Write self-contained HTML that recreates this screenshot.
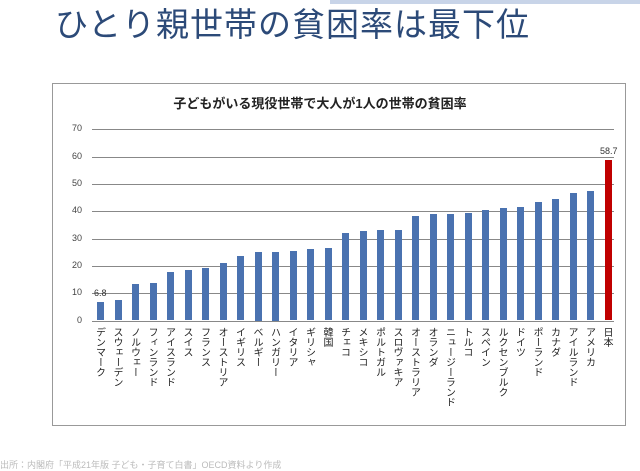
<!DOCTYPE html>
<html><head><meta charset="utf-8"><style>
body{margin:0;width:640px;height:468px;background:#fff;overflow:hidden;font-family:"Liberation Sans","Noto Sans CJK JP",sans-serif;position:relative}
.t{position:absolute;left:55px;top:-2px;font-size:33px;color:#2c4a78;letter-spacing:1px;white-space:nowrap}
.box{position:absolute;left:52px;top:83px;width:572px;height:341px;border:1px solid #999}
.ct{position:absolute;left:0;width:640px;top:93px;text-align:center;font-size:13px;font-weight:bold;color:#222}
.yl{position:absolute;left:60px;width:22px;text-align:right;font-size:9px;color:#444}
.g{position:absolute;left:92px;width:522px;height:1px;background:#888}
.b{position:absolute;width:7px;background:#4a72b0}
.lb{position:absolute;top:327px;writing-mode:vertical-rl;font-size:10px;color:#222;width:12px;white-space:nowrap}
.dl{position:absolute;font-size:9px;color:#333}
.topbar{position:absolute;left:330px;top:0;width:310px;height:4px;background:#c8d4e8}
</style></head><body>
<div class="topbar"></div>
<div class="t">ひとり親世帯の貧困率は最下位</div>
<div class="box"></div>
<div class="ct">子どもがいる現役世帯で大人が1人の世帯の貧困率</div>
<div id="c"></div>
<div style="position:absolute;left:0;top:458px;font-size:9px;color:#bbb;white-space:nowrap">出所：内閣府「平成21年版 子ども・子育て白書」OECD資料より作成</div>
<script>
var c=document.getElementById('c'),h='';
var y0=320.5,k=2.73;
for(var v=0;v<=70;v+=10){var y=y0-v*k;h+='<div class="g" style="top:'+y+'px"></div><div class="yl" style="top:'+(y-6)+'px">'+v+'</div>';}
var n=['デンマーク','スウェーデン','ノルウェー','フィンランド','アイスランド','スイス','フランス','オーストリア','イギリス','ベルギー','ハンガリー','イタリア','ギリシャ','韓国','チェコ','メキシコ','ポルトガル','スロヴァキア','オーストラリア','オランダ','ニュージーランド','トルコ','スペイン','ルクセンブルク','ドイツ','ポーランド','カナダ','アイルランド','アメリカ','日本'];
var d=[6.8,7.6,13.2,13.8,17.9,18.5,19.2,21,23.5,25,25,25.3,26.3,26.6,32,32.8,33.3,33.3,38.3,39,39,39.3,40.5,41.2,41.5,43.3,44.6,46.8,47.4,58.7];
for(var i=0;i<30;i++){var x=100.5+i*17.5,hh=d[i]*k;
h+='<div class="b" style="left:'+(x-3.5)+'px;top:'+(y0-hh)+'px;height:'+hh+'px;'+(i==29?'background:#c00000':'')+'"></div>';
h+='<div class="lb" style="left:'+(x-6)+'px">'+n[i]+'</div>';}
h+='<div class="dl" style="left:94px;top:'+(y0-6.8*k-14)+'px">6.8</div>';
h+='<div class="dl" style="left:600px;top:'+(y0-58.7*k-14)+'px">58.7</div>';
c.innerHTML=h;
</script>
</body></html>
